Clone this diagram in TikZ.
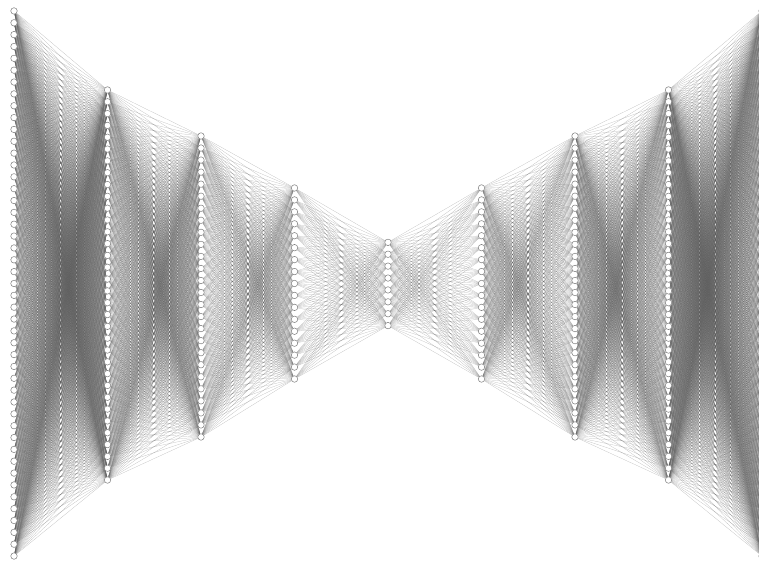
\documentclass[tikz,border=0pt]{standalone}
\usetikzlibrary{backgrounds}

\begin{document}
\begin{tikzpicture}[x=0.02cm, y=0.02cm,
        neuron/.style={circle, draw=black!50, fill=white, line width=0.3pt, inner sep=0pt, minimum size=0.13cm},
        link/.style={black!65, line width=0.12pt, opacity=0.42}]

        \useasboundingbox (0,0) rectangle (759,563);

        % layers: index / units / spacing / centre height
        \foreach \l/\n/\s/\c in {1/47/11.85/279.5, 2/34/11.82/278, 3/26/12.04/276.5, 4/17/11.94/279.5, 5/8/11.9/279,
                                 6/17/11.94/279.5, 7/26/12.04/276.5, 8/34/11.82/278, 9/47/11.85/279.5}
            \foreach \i in {1,...,\n}
                \node[neuron] (n\l-\i) at ({14+(\l-1)*93.5}, {\c+((\n+1)/2-\i)*\s}) {};

        % full connections between neighbouring layers
        \begin{scope}[on background layer]
        \foreach \a/\b/\n/\m in {1/2/47/34, 2/3/34/26, 3/4/26/17, 4/5/17/8, 5/6/8/17, 6/7/17/26, 7/8/26/34, 8/9/34/47}
            \foreach \i in {1,...,\n}
                \foreach \j in {1,...,\m}
                    \draw[link] (n\a-\i) -- (n\b-\j);
        \end{scope}
    \end{tikzpicture}
\end{document}
